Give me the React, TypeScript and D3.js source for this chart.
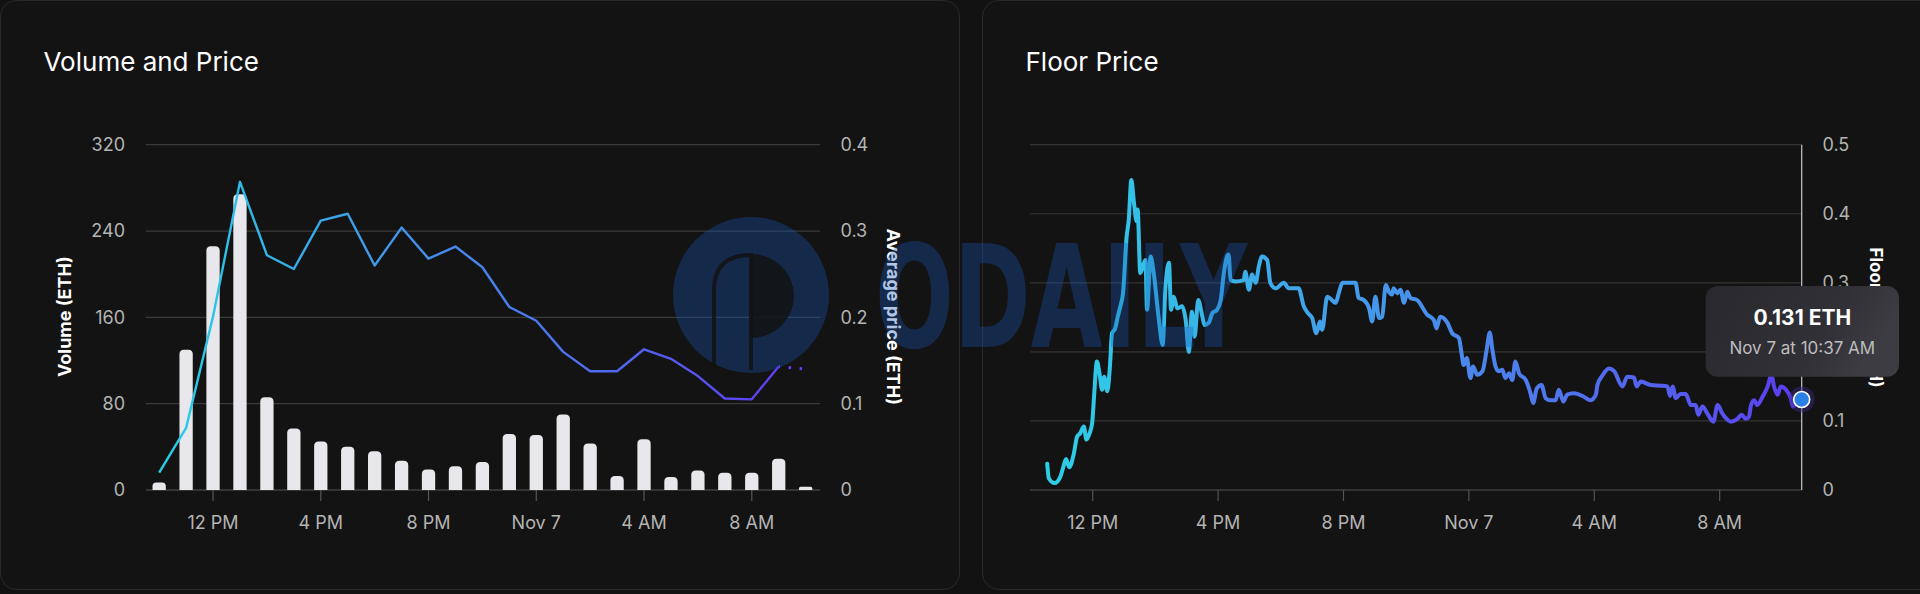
import React from "react";
import * as d3 from "d3";

// ---------- DATA ----------
// hours since Nov 6 00:00
const barHours = [10, 11, 12, 13, 14, 15, 16, 17, 18, 19, 20, 21, 22, 23, 24, 25, 26, 27, 28, 29, 30, 31, 32, 33, 34];
const volume = [7, 130, 226, 274, 86, 57, 45, 40, 36, 27, 19, 22, 26, 52, 51, 70, 43, 13, 47, 12, 18, 16, 16, 29, 3];
const avgPrice = [0.02, 0.072, 0.201, 0.357, 0.272, 0.256, 0.312, 0.32, 0.26, 0.304, 0.268, 0.282, 0.258, 0.212, 0.196, 0.16, 0.1375, 0.1375, 0.163, 0.152, 0.132, 0.106, 0.105, 0.143, 0.14];

const tickHours = [12, 16, 20, 24, 28, 32];
const tickLabels = ["12 PM", "4 PM", "8 PM", "Nov 7", "4 AM", "8 AM"];
const volTicks = [0, 80, 160, 240, 320];
const avgTicks = [0, 0.1, 0.2, 0.3, 0.4];
const floorTicks = [0, 0.1, 0.2, 0.3, 0.4, 0.5];

// minutes after Nov 6 10:00 AM
const floorMinutes = [33, 36, 47, 58, 64, 69, 75, 84, 90, 96, 103, 108, 114, 119, 123, 128, 133, 138, 142, 148, 153, 157, 163, 168, 173, 178, 185, 189, 194, 199, 204, 206, 211, 221, 224, 231, 236, 246, 254, 259, 266, 270, 275, 282, 291, 298, 304, 310, 315, 322, 330, 334, 342, 349, 358, 365, 371, 377, 380, 384, 393, 409, 412, 419, 425, 432, 438, 444, 454, 460, 470, 486, 495, 514, 524, 532, 540, 548, 555, 559, 569, 578, 585, 591, 598, 623, 629, 639, 649, 655, 661, 668, 674, 681, 687, 693, 696, 703, 709, 716, 722, 728, 741, 760, 773, 778, 785, 799, 808, 821, 826, 830, 836, 843, 848, 856, 866, 874, 880, 885, 891, 897, 904, 910, 917, 923, 929, 936, 949, 958, 963, 970, 979, 987, 996, 1006, 1012, 1021, 1028, 1041, 1060, 1073, 1083, 1086, 1095, 1108, 1118, 1134, 1143, 1156, 1161, 1169, 1188, 1207, 1220, 1225, 1230, 1236, 1245, 1255, 1265, 1274, 1279, 1287, 1297, 1308, 1316, 1325, 1332, 1341, 1354, 1362, 1370, 1376, 1380, 1386, 1392, 1402, 1412, 1419, 1424, 1431, 1437, 1447, 1456, 1460, 1469, 1477];
const floorPrice = [0.038, 0.017, 0.01, 0.019, 0.034, 0.045, 0.033, 0.053, 0.077, 0.082, 0.092, 0.073, 0.082, 0.097, 0.14, 0.186, 0.169, 0.145, 0.164, 0.143, 0.179, 0.227, 0.234, 0.251, 0.266, 0.285, 0.367, 0.391, 0.449, 0.416, 0.389, 0.406, 0.314, 0.333, 0.261, 0.338, 0.319, 0.251, 0.21, 0.29, 0.329, 0.261, 0.28, 0.263, 0.266, 0.246, 0.2, 0.258, 0.222, 0.275, 0.251, 0.239, 0.242, 0.256, 0.261, 0.275, 0.314, 0.338, 0.341, 0.304, 0.302, 0.304, 0.316, 0.29, 0.312, 0.3, 0.324, 0.338, 0.333, 0.3, 0.292, 0.3, 0.292, 0.292, 0.266, 0.256, 0.249, 0.227, 0.244, 0.232, 0.28, 0.275, 0.271, 0.285, 0.3, 0.3, 0.278, 0.275, 0.263, 0.244, 0.28, 0.249, 0.251, 0.297, 0.287, 0.283, 0.292, 0.285, 0.29, 0.271, 0.287, 0.278, 0.275, 0.254, 0.246, 0.234, 0.251, 0.242, 0.227, 0.22, 0.198, 0.181, 0.191, 0.162, 0.179, 0.167, 0.172, 0.203, 0.228, 0.203, 0.179, 0.172, 0.174, 0.162, 0.169, 0.159, 0.186, 0.169, 0.159, 0.14, 0.126, 0.147, 0.152, 0.133, 0.13, 0.13, 0.145, 0.128, 0.138, 0.14, 0.135, 0.13, 0.138, 0.152, 0.165, 0.176, 0.172, 0.15, 0.164, 0.163, 0.15, 0.157, 0.152, 0.151, 0.15, 0.136, 0.15, 0.133, 0.139, 0.139, 0.123, 0.123, 0.109, 0.121, 0.11, 0.099, 0.123, 0.111, 0.104, 0.099, 0.103, 0.109, 0.103, 0.106, 0.123, 0.13, 0.123, 0.135, 0.15, 0.167, 0.15, 0.138, 0.15, 0.145, 0.133, 0.121, 0.128, 0.131];

const tooltipValue = "0.131 ETH";
const tooltipDate = "Nov 7 at 10:37 AM";

// ---------- HELPERS ----------
const base = new Date(2023, 10, 6, 0, 0, 0);
const hourDate = (h: number) => new Date(base.getTime() + h * 3600000);
const FONT = "Inter, 'Noto Sans', sans-serif";

export default function App() {
  const W = 1920, H = 594;
  const top = 144.7, bottom = 490;

  // left chart scales
  const xL = d3.scaleTime().domain([hourDate(9.5), hourDate(34.533)]).range([145.7, 820]);
  const yVol = d3.scaleLinear().domain([0, 320]).range([bottom, top]);
  const yAvg = d3.scaleLinear().domain([0, 0.4]).range([bottom, top]);

  // right chart scales
  const xR = d3.scaleTime().domain([hourDate(10), hourDate(10 + 1477 / 60)]).range([1030, 1801.7]);
  const yF = d3.scaleLinear().domain([0, 0.5]).range([bottom, top]);

  const barW = 13.3;
  const barPath = (h: number, v: number) => {
    const cx = xL(hourDate(h));
    const x0 = cx - barW / 2, x1 = cx + barW / 2;
    const yt = yVol(v);
    const r = Math.min(4.5, (bottom - yt) / 2);
    return `M${x0},${bottom}L${x0},${yt + r}Q${x0},${yt} ${x0 + r},${yt}L${x1 - r},${yt}Q${x1},${yt} ${x1},${yt + r}L${x1},${bottom}Z`;
  };

  const avgPts: [number, number][] = barHours.map((h, i) => [xL(hourDate(h)), yAvg(avgPrice[i])]);
  const lineGen = d3.line<[number, number]>().x((d) => d[0]).y((d) => d[1]);
  const solidPath = lineGen(avgPts.slice(0, avgPts.length - 1)) || "";
  const dotPath = lineGen(avgPts.slice(avgPts.length - 2)) || "";

  const floorPts: [number, number][] = floorMinutes.map((m, i) => [xR(hourDate(10 + m / 60)), yF(floorPrice[i])]);
  const floorPath = d3.line<[number, number]>().x((d) => d[0]).y((d) => d[1]).curve(d3.curveMonotoneX)(floorPts) || "";
  const last = floorPts[floorPts.length - 1];

  const tickColor = "#b4b4b4";

  return (
    <div style={{ position: "absolute", left: 0, top: 0, width: W, height: H, background: "#121212" }}>
      <svg width={W} height={H} style={{ display: "block" }} fontFamily={FONT}>
        <defs>
          <linearGradient id="gL" gradientUnits="userSpaceOnUse" x1={158} x2={806} y1={0} y2={0}>
            <stop offset="0" stopColor="#26d0e6" />
            <stop offset="0.35" stopColor="#3f98ea" />
            <stop offset="0.7" stopColor="#5068ee" />
            <stop offset="1" stopColor="#6236f2" />
          </linearGradient>
          <linearGradient id="gR" gradientUnits="userSpaceOnUse" x1={1046} x2={1802} y1={0} y2={0}>
            <stop offset="0" stopColor="#2ccfe6" />
            <stop offset="0.3" stopColor="#3eaaea" />
            <stop offset="0.55" stopColor="#4a88ec" />
            <stop offset="0.8" stopColor="#5462ee" />
            <stop offset="1" stopColor="#5a3cf0" />
          </linearGradient>
          <linearGradient id="gTip" x1="0" y1="0" x2="1" y2="0.3">
            <stop offset="0" stopColor="#29292d" />
            <stop offset="0.7" stopColor="#303036" />
            <stop offset="1" stopColor="#3c3c42" />
          </linearGradient>
        </defs>

        <rect x={0} y={0} width={W} height={H} fill="#121212" />
        {/* cards */}
        <rect x={0.5} y={0.5} width={959} height={589} rx={16} fill="#131313" stroke="#2a2a2a" />
        <rect x={982.5} y={0.5} width={960} height={589} rx={16} fill="#131313" stroke="#2a2a2a" />

        {/* titles */}
        <text x={43.5} y={70.5} fill="#ffffff" fontSize={26} fontWeight={400}>Volume and Price</text>
        <text x={1025.5} y={70.5} fill="#ffffff" fontSize={26} fontWeight={400}>Floor Price</text>

        {/* ---------- LEFT CHART ---------- */}
        {volTicks.map((t) => (
          <line key={"gl" + t} x1={145.7} x2={820} y1={yVol(t)} y2={yVol(t)} stroke={t === 0 ? "#575757" : "#3a3a3a"} strokeWidth={1.2} />
        ))}
        {volTicks.map((t) => (
          <text key={"vl" + t} x={125} y={yVol(t)} dy="0.35em" textAnchor="end" fill={tickColor} fontSize={18}>{t}</text>
        ))}
        {avgTicks.map((t) => (
          <text key={"al" + t} x={840.5} y={yAvg(t)} dy="0.35em" textAnchor="start" fill={tickColor} fontSize={18}>{t}</text>
        ))}
        {tickHours.map((h, i) => (
          <g key={"xl" + h}>
            <line x1={xL(hourDate(h))} x2={xL(hourDate(h))} y1={bottom} y2={bottom + 11} stroke="#575757" strokeWidth={1.2} />
            <text x={xL(hourDate(h))} y={528.5} textAnchor="middle" fill={tickColor} fontSize={18}>{tickLabels[i]}</text>
          </g>
        ))}
        <text transform={`translate(65,316.7) rotate(-90)`} textAnchor="middle" dy="0.35em" fill="#ffffff" fontSize={18} fontWeight={700}>Volume (ETH)</text>
        <text transform={`translate(893,316.7) rotate(90)`} textAnchor="middle" dy="0.35em" fill="#ffffff" fontSize={18} fontWeight={700}>Average price (ETH)</text>

        {barHours.map((h, i) => (
          <path key={"b" + h} d={barPath(h, volume[i])} fill="#e8e8ec" />
        ))}
        <path d={solidPath} fill="none" stroke="url(#gL)" strokeWidth={2.4} strokeLinejoin="round" />
        <path d={dotPath} fill="none" stroke="#6a3cf2" strokeWidth={3} strokeDasharray="2.5 8.5" strokeDashoffset={-10} />

        {/* ---------- RIGHT CHART ---------- */}
        {floorTicks.map((t) => (
          <line key={"gr" + t} x1={1030} x2={1801.7} y1={yF(t)} y2={yF(t)} stroke={t === 0 ? "#555555" : "#343434"} strokeWidth={1.2} />
        ))}
        {floorTicks.map((t) => (
          <text key={"fl" + t} x={1822.5} y={yF(t)} dy="0.35em" textAnchor="start" fill={tickColor} fontSize={18}>{t}</text>
        ))}
        {tickHours.map((h, i) => (
          <g key={"xr" + h}>
            <line x1={xR(hourDate(h))} x2={xR(hourDate(h))} y1={bottom} y2={bottom + 11} stroke="#555555" strokeWidth={1.2} />
            <text x={xR(hourDate(h))} y={528.5} textAnchor="middle" fill={tickColor} fontSize={18}>{tickLabels[i]}</text>
          </g>
        ))}
        <text transform={`translate(1875.5,317.5) rotate(90)`} textAnchor="middle" dy="0.35em" fill="#ffffff" fontSize={17} fontWeight={700}>Floor price (ETH)</text>

        <line x1={last[0]} x2={last[0]} y1={top} y2={bottom} stroke="#c8c8c8" strokeWidth={1.2} />
        <path d={floorPath} fill="none" stroke="url(#gR)" strokeWidth={4} strokeLinejoin="round" strokeLinecap="round" />
        <circle cx={last[0]} cy={last[1]} r={13} fill="#3a2a8a" opacity={0.45} />
        <circle cx={last[0]} cy={last[1]} r={8} fill="#2a80e4" stroke="#ffffff" strokeWidth={1.6} />

        {/* tooltip */}
        <rect x={1705.7} y={286} width={193.3} height={90.7} rx={12} fill="url(#gTip)" />
        <text x={1802.3} y={325} textAnchor="middle" fill="#ffffff" fontSize={21} fontWeight={700}>{tooltipValue}</text>
        <text x={1802.3} y={353.5} textAnchor="middle" fill="#bdbdbd" fontSize={17}>{tooltipDate}</text>

        {/* watermark */}
        <g fill="rgb(26,87,187)" opacity={0.33}>
          <circle cx={751} cy={295} r={78} />
          <text x={875} y={347} fontFamily="'Liberation Sans Narrow', 'DejaVu Sans Condensed', sans-serif" fontWeight={700} fontSize={142} textLength={372} lengthAdjust="spacingAndGlyphs">ODAILY</text>
        </g>
        <g fill="#121212" opacity={0.85}>
          <path d="M751,254 A43,42 0 0 1 751,338 Z" />
        </g>
        <path d="M714,366 L714,290 Q714,255 751,255 L751,370" fill="none" stroke="#121212" strokeWidth={4} opacity={0.85} />
      </svg>
    </div>
  );
}
